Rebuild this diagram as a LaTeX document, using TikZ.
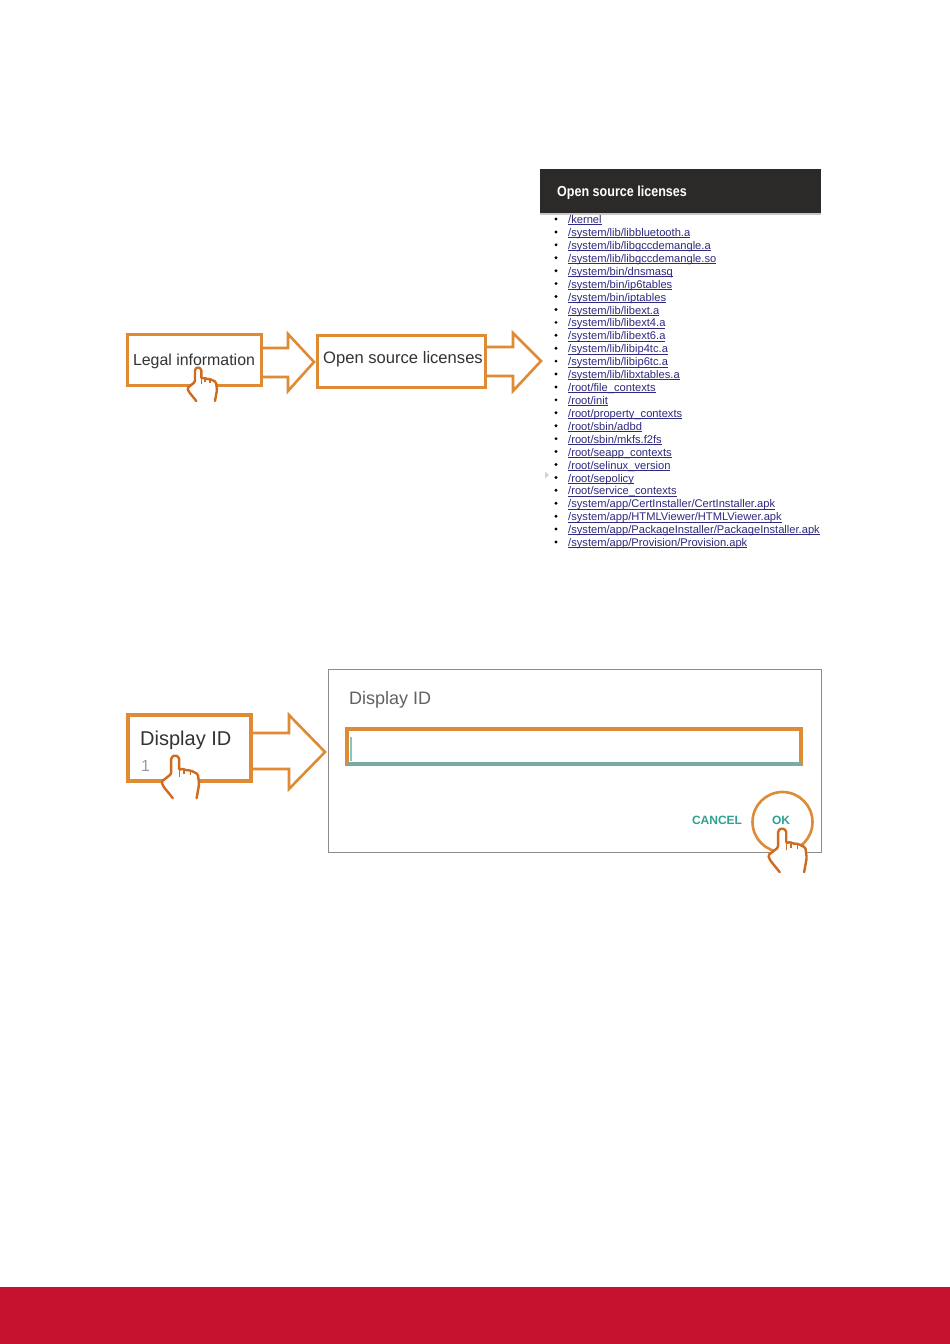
\documentclass[tikz,border=0pt]{standalone}
\usepackage{fontspec}
\setmainfont{Liberation Sans}
\usetikzlibrary{calc}
\definecolor{boxor}{HTML}{DF8A35}
\definecolor{handor}{HTML}{CF6B1E}
\definecolor{linkc}{HTML}{2E2A80}
\definecolor{headc}{HTML}{2B2A29}
\definecolor{tealc}{HTML}{2FA28F}
\definecolor{redbar}{HTML}{C4122F}
\definecolor{txtc}{HTML}{333333}
\newcommand{\fs}[1]{\fontsize{#1}{#1}\selectfont}
\newcommand{\ulink}[1]{\sbox0{#1}\rlap{\rule[-1.4pt]{\wd0}{0.6pt}}\box0}
\tikzset{
  x=1pt,y=-1pt,
  obox/.style={draw=boxor,rectangle,inner sep=0pt,fill=white},
  barrow/.style={draw=boxor,fill=white,line width=2.6pt,miter limit=10},
  linktext/.style={anchor=base west,inner sep=0pt,text=linkc,font=\fs{11.15}},
  plain/.style={inner sep=0pt,text=txtc},
  hand/.pic={
    \draw[handor,fill=white,line width=2.4pt,line cap=round,line join=round,rounded corners=1.4pt]
      (-1.7,34) -- (-9,25) -- (-10.7,21) -- (-3,15) -- (-3,2) -- (0,0) -- (3.3,2) -- (3.3,12)
      -- (6,10.5) -- (8,12) -- (11,12) -- (13,12.5) -- (18,15) -- (19,23) -- (17,34);
    \draw[handor,line width=1.3pt] (7,11) -- (7,15) (12,12.5) -- (12,16) (3.3,12) -- (3.3,17);
  }
}
\begin{document}
\begin{tikzpicture}
\useasboundingbox (0,0) rectangle (950,1344);
\fill[white] (0,0) rectangle (950,1344);
\fill[redbar] (0,1287) rectangle (950,1344);

% --- first row
\node[obox,line width=3pt,minimum width=134pt,minimum height=51pt] (legal) at (194.5,360) {};
\node[plain,font=\fs{15.9}] (legaltext) at (194,361) {Legal information};
\node[obox,line width=3pt,minimum width=168pt,minimum height=52pt] (osl) at (401.5,361.5) {};
\node[plain,font=\fs{16.6}] (osltext) at (403,359) {Open source licenses};
\coordinate (tipa) at (314,362);
\coordinate (tipb) at (541,361);
\draw[barrow] (legal.east |- 0,348) -- (288,348) -- (288,334) -- (tipa) -- (288,391) -- (288,377) -- (legal.east |- 0,377);
\draw[barrow] (osl.east |- 0,347) -- (513,347) -- (513,333) -- (tipb) -- (513,391) -- (513,376) -- (osl.east |- 0,376);
\pic at (198,367) {hand};

% --- licence list
\fill[black!22] (540,213) rectangle (821,215);
\fill[headc] (540,169) rectangle (821,213);
\node[anchor=west,inner sep=0pt,text=white,font=\fs{14.5}\bfseries] (title) at (557,192.5) {\scalebox{0.865}[1]{Open source licenses}};
\foreach \lbl [count=\i from 0] in {/kernel,/system/lib/libbluetooth.a,/system/lib/libgccdemangle.a,/system/lib/libgccdemangle.so,/system/bin/dnsmasq,/system/bin/ip6tables,/system/bin/iptables,/system/lib/libext.a,/system/lib/libext4.a,/system/lib/libext6.a,/system/lib/libip4tc.a,/system/lib/libip6tc.a,/system/lib/libxtables.a,/root/file\_contexts,/root/init,/root/property\_contexts,/root/sbin/adbd,/root/sbin/mkfs.f2fs,/root/seapp\_contexts,/root/selinux\_version,/root/sepolicy,/root/service\_contexts,/system/app/CertInstaller/CertInstaller.apk,/system/app/HTMLViewer/HTMLViewer.apk,/system/app/PackageInstaller/PackageInstaller.apk,/system/app/Provision/Provision.apk}{
  \pgfmathsetmacro{\yy}{219+12.92*\i}
  \fill[black] (556,\yy) circle (1.6);
  \node[linktext] (link\i) at (568,\yy+4.6) {\ulink{\lbl}};
}
\fill[black!18] (545,471.5) -- (549,475) -- (545,478.5) -- cycle;

% --- second row
\node[obox,line width=4pt,minimum width=123pt,minimum height=66pt] (did) at (189.5,748) {};
\node[anchor=west,plain,font=\fs{20}] (didtext) at (140,740) {Display ID};
\node[anchor=west,inner sep=0pt,text=black!40,font=\fs{16}] (didval) at (141,766) {1};
\draw[draw=black!45,line width=0.7pt] (328,669) rectangle (821,852);
\coordinate (tipc) at (325,752);
\draw[barrow] (did.east |- 0,733) -- (289,733) -- (289,715) -- (tipc) -- (289,789) -- (289,769) -- (did.east |- 0,769);
\pic[scale=1.27] at (175,755) {hand};
\node[anchor=west,inner sep=0pt,text=black!62,font=\fs{18}] (dlgtitle) at (349,700) {Display ID};
\node[obox,line width=4pt,minimum width=454pt,minimum height=35pt] (input) at (574,746.5) {};
\fill[tealc!60] (349.5,737) rectangle (351.5,761);
\fill[tealc!70!black!60] (348,762) rectangle (801,764.5);
\node[inner sep=0pt,text=tealc,font=\fs{12}\bfseries] (cancel) at (717,820) {CANCEL};
\node[inner sep=0pt,text=tealc,font=\fs{12}\bfseries] (ok) at (781,820) {OK};
\draw[boxor,line width=2.6pt] (782.5,822) circle (30);
\pic[scale=1.3] at (782,828) {hand};
\end{tikzpicture}
\end{document}
